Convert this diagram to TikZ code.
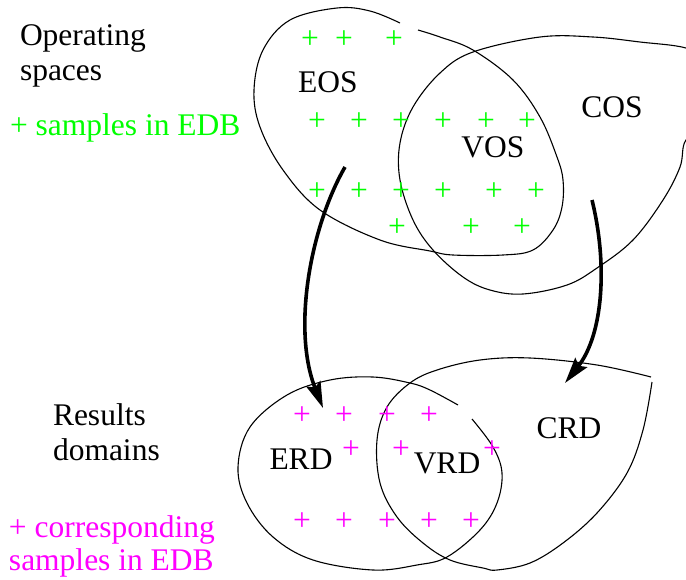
\documentclass[tikz,border=0pt]{standalone}
\usepackage{fontspec}
\setmainfont{Liberation Serif}
\usetikzlibrary{arrows.meta}
\definecolor{edbgreen}{RGB}{0,255,0}
\definecolor{edbmag}{RGB}{255,0,255}
\begin{document}
\begin{tikzpicture}[x=1pt,y=-1pt,
  every node/.style={font=\fontsize{31.5}{36}\selectfont, inner sep=0pt, outer sep=0pt},
  region/.style={line width=1.1pt, draw=black, line join=round},
  flow/.style={line width=3.6pt, -{Stealth[length=26pt,width=15pt,inset=4pt]}},
  gplus/.style={text=edbgreen},
  mplus/.style={text=edbmag},
  lbl/.style={anchor=base},
  txt/.style={anchor=base west}]
\useasboundingbox (0,0) rectangle (686,579);
\begin{scope}
\clip (0,0) rectangle (686,579);
% EOS (open curve)
\draw[region] plot[smooth, tension=0.6] coordinates {(400,23) (370,11) (337,8) (290,20) (263,50) (254,90) (260,127) (283,170) (320,210) (380,240) (430,251) (453,255) (503,255) (533,250) (553,230) (562,207) (563,180) (557,157) (540,117) (513,80) (473,50) (440,37) (418,30)};
% COS (closed, partly beyond the right edge)
\draw[region] plot[smooth cycle, tension=0.6] coordinates {(473,52) (540,37) (593,37) (640,42) (686,48) (712,62) (724,95) (710,125) (686,140) (680,167) (663,200) (633,240) (597,268) (567,285) (523,294) (490,290) (463,277) (433,250) (413,220) (400,180) (400,143) (413,107) (440,73)};
% ERD (open curve)
\draw[region] plot[smooth, tension=0.6] coordinates {(458,405) (430,390) (410,383) (373,377) (330,380) (287,395) (250,427) (238,467) (247,503) (273,537) (313,560) (373,570) (417,565) (447,557) (480,530) (497,503) (502,473) (493,447) (472,419)};
% CRD (closed with a corner)
\draw[region] plot[smooth, tension=0.6] coordinates {(652,382) (643,430) (627,473) (597,513) (563,543) (530,563) (497,570) (483,568) (450,560) (423,543) (397,517) (380,483) (377,440) (387,407) (410,383) (437,370) (480,360) (530,358) (597,365) (651,377)};
\end{scope}

% region labels
\node[lbl] (eos) at (328,92) {EOS};
\node[lbl] (cos) at (612,117) {COS};
\node[lbl] (vos) at (493,157) {VOS};
\node[lbl] (erd) at (301,469) {ERD};
\node[lbl] (vrd) at (447,473) {VRD};
\node[lbl] (crd) at (569,438) {CRD};

% side texts
\node[txt] (op1) at (20,45) {Operating};
\node[txt] (op2) at (20,80) {spaces};
\node[txt, text=edbgreen] (leg1) at (10,135) {+ samples in EDB};
\node[txt] (rd1) at (53,425) {Results};
\node[txt] (rd2) at (53,460) {domains};
\node[txt, text=edbmag] (leg2a) at (9,537) {+ corresponding};
\node[txt, text=edbmag] (leg2b) at (9,570) {samples in EDB};

% green samples
\foreach \px/\py [count=\i] in {310/40, 344/40, 394/40,
  317/122, 359/122, 401/122, 443/122, 486/122, 527/122,
  317/192, 359/192, 401/192, 443/192, 494/192, 536/192,
  397/228, 471/228, 522/228}
  \node[gplus] (g\i) at (\px,\py) {+};

% magenta samples
\foreach \px/\py [count=\i] in {302/416, 344/416, 387/416, 429/416,
  351/450, 401/450, 492/450,
  302/522, 344/522, 387/522, 429/522, 471/522}
  \node[mplus] (m\i) at (\px,\py) {+};

% arrows
\coordinate (a1s) at (345,167);
\coordinate (a1e) at (323,408);
\coordinate (a2s) at (592,200);
\coordinate (a2e) at (565,383);
\draw[flow] (a1s) .. controls (310,228) and (292,330) .. (a1e);
\draw[flow] (a2s) .. controls (608,265) and (603,335) .. (a2e);
\end{tikzpicture}
\end{document}
